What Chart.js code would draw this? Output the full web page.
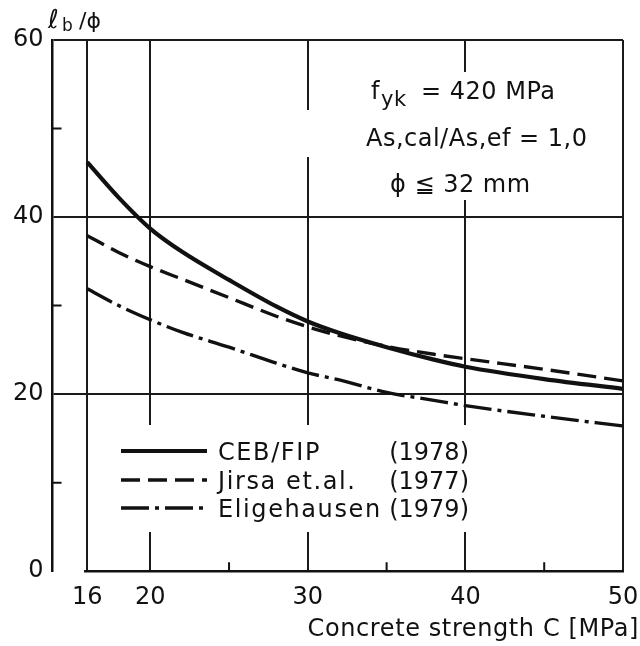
<!DOCTYPE html>
<html>
<head>
<meta charset="utf-8">
<script src="https://cdn.jsdelivr.net/npm/chart.js@4.4.0/dist/chart.umd.min.js"></script>
<style>
html, body { margin: 0; padding: 0; background: #fff; }
#wrap { width: 640px; height: 646px; }
</style>
</head>
<body>
<div id="wrap"><canvas id="bondChart"></canvas></div>
<script>
// concrete strength C [MPa] and lb/phi
const strength = [16, 18, 20, 22, 25, 28, 30, 32, 35, 38, 40, 45, 50];
const cebFip = [46.2, 42.2, 38.7, 36.1, 32.9, 29.9, 28.2, 26.9, 25.3, 23.9, 23.1, 21.7, 20.6];
const jirsa = [37.9, 36.0, 34.4, 33.0, 30.9, 28.8, 27.6, 26.6, 25.4, 24.5, 24.0, 22.8, 21.5];
const eligehausen = [31.9, 30.0, 28.4, 27.0, 25.3, 23.5, 22.4, 21.6, 20.2, 19.3, 18.7, 17.5, 16.4];

const seriesNames = ['CEB/FIP', 'Jirsa et.al.', 'Eligehausen'];
const seriesYears = ['(1978)', '(1977)', '(1979)'];

const xTicks = [16, 20, 30, 40, 50];
const yTicks = [0, 20, 40, 60];
const xMinor = [25, 35, 45];
const yMinor = [10, 30, 50];

const ink = '#111';
const font = 'DejaVu Sans';

function points(values) {
    return strength.map((s, i) => ({ x: s, y: values[i] }));
}

const paper = {
    id: 'paper',
    beforeDraw(chart) {
        const ctx = chart.ctx;
        ctx.save();
        ctx.fillStyle = '#fff';
        ctx.fillRect(0, 0, chart.width, chart.height);
        ctx.restore();
    },
    beforeDatasetsDraw(chart) {
        const { ctx, chartArea: a, scales: { x, y } } = chart;
        ctx.save();
        // blank the grid behind the notes and the legend
        ctx.fillStyle = '#fff';
        ctx.fillRect(340, 72, 250, 128);
        ctx.fillRect(299, 110, 14, 47);
        ctx.fillRect(100, 425, 380, 107);

        ctx.strokeStyle = ink;
        ctx.lineWidth = 2.5;
        ctx.beginPath();
        ctx.moveTo(x.getPixelForValue(15.8), a.bottom);
        ctx.lineTo(a.right + 1, a.bottom);
        ctx.stroke();

        ctx.lineWidth = 2;
        ctx.beginPath();
        xMinor.forEach(v => {
            const px = x.getPixelForValue(v);
            ctx.moveTo(px, a.bottom);
            ctx.lineTo(px, a.bottom - 9);
        });
        yMinor.forEach(v => {
            const py = y.getPixelForValue(v);
            ctx.moveTo(a.left, py);
            ctx.lineTo(a.left + 9, py);
        });
        ctx.stroke();
        ctx.restore();
    },
    afterDraw(chart) {
        const { ctx } = chart;
        ctx.save();
        ctx.fillStyle = ink;
        ctx.strokeStyle = ink;
        ctx.textBaseline = 'alphabetic';

        // legend
        const rows = [451, 480, 508];
        chart.data.datasets.forEach((ds, i) => {
            ctx.lineWidth = ds.borderWidth;
            ctx.setLineDash(ds.borderDash || []);
            ctx.beginPath();
            ctx.moveTo(121, rows[i]);
            ctx.lineTo(207, rows[i]);
            ctx.stroke();
            ctx.setLineDash([]);
            ctx.font = '24px "' + font + '"';
            ctx.letterSpacing = '1.6px';
            ctx.textAlign = 'left';
            ctx.fillText(seriesNames[i], 218, rows[i] + 9);
            ctx.letterSpacing = '0px';
            ctx.textAlign = 'right';
            ctx.fillText(seriesYears[i], 469, rows[i] + 9);
        });

        // notes
        ctx.textAlign = 'left';
        ctx.letterSpacing = '0.5px';
        ctx.font = '24px "' + font + '"';
        ctx.fillText('f', 371, 99);
        ctx.font = '21px "' + font + '"';
        ctx.fillText('yk', 381, 106);
        ctx.font = '24px "' + font + '"';
        ctx.fillText('= 420 MPa', 421, 99);
        ctx.fillText('As,cal/As,ef = 1,0', 366, 146);
        ctx.fillText('\u03D5 \u2266 32 mm', 390, 192);

        // axis titles
        ctx.letterSpacing = '0px';
        ctx.font = '26px "' + font + '"';
        ctx.fillText('\u2113', 48, 28);
        ctx.font = '17px "' + font + '"';
        ctx.fillText('b', 62, 31);
        ctx.font = '22px "' + font + '"';
        ctx.fillText('/\u03D5', 79, 28);

        ctx.textAlign = 'right';
        ctx.letterSpacing = '0.6px';
        ctx.font = '24px "' + font + '"';
        ctx.fillText('Concrete strength C [MPa]', 639, 636);
        ctx.restore();
    }
};

const baseLine = {
    borderColor: ink,
    pointRadius: 0,
    fill: false,
    cubicInterpolationMode: 'monotone'
};

new Chart(document.getElementById('bondChart'), {
    type: 'line',
    data: {
        datasets: [
            Object.assign({ label: seriesNames[0], data: points(cebFip), borderWidth: 4.2, borderDash: [] }, baseLine),
            Object.assign({ label: seriesNames[1], data: points(jirsa), borderWidth: 3.4, borderDash: [19, 8] }, baseLine),
            Object.assign({ label: seriesNames[2], data: points(eligehausen), borderWidth: 3.4, borderDash: [28, 6, 4, 6] }, baseLine)
        ]
    },
    options: {
        responsive: true,
        maintainAspectRatio: false,
        animation: false,
        layout: {
            padding: { left: 4, right: 17, top: 40, bottom: 22 }
        },
        plugins: {
            legend: { display: false },
            tooltip: { enabled: false }
        },
        scales: {
            x: {
                type: 'linear',
                min: 13.8,
                max: 50,
                afterBuildTicks: scale => {
                    scale.ticks = xTicks.map(v => ({ value: v }));
                },
                afterFit: scale => {
                    scale.paddingLeft = 0;
                    scale.paddingRight = 0;
                },
                grid: { color: '#1a1a1a', lineWidth: 2, drawTicks: false },
                border: { display: false },
                ticks: {
                    padding: 12,
                    color: ink,
                    maxRotation: 0,
                    autoSkip: false,
                    font: { family: font, size: 24 }
                }
            },
            y: {
                min: 0,
                max: 60,
                afterBuildTicks: scale => {
                    scale.ticks = yTicks.map(v => ({ value: v }));
                },
                grid: {
                    color: c => (c.tick && c.tick.value === 0) ? 'rgba(0,0,0,0)' : '#1a1a1a',
                    lineWidth: 2,
                    drawTicks: false
                },
                border: { display: true, color: ink, width: 2.5 },
                ticks: {
                    padding: 9,
                    color: ink,
                    font: { family: font, size: 24 }
                }
            }
        }
    },
    plugins: [paper]
});
</script>
</body>
</html>
